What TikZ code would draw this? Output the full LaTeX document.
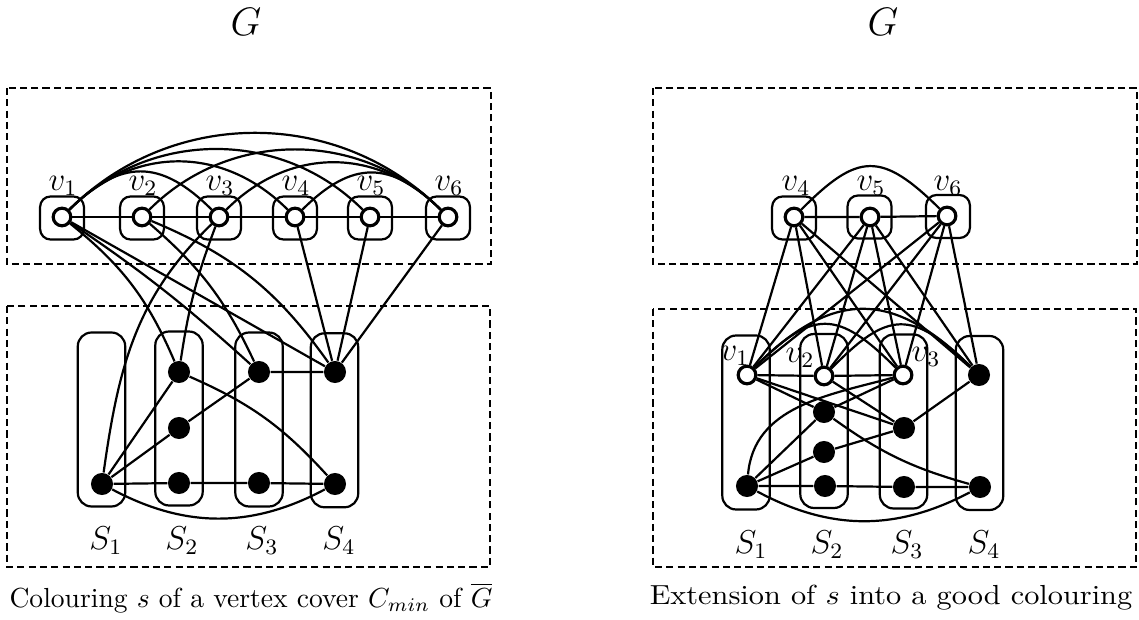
\documentclass[tikz,border=0pt]{standalone}
\usetikzlibrary{calc}
\begin{document}
\begin{tikzpicture}[x=0.3627pt, y=-0.3627pt,
  wv/.style={circle, draw, fill=white, line width=1.15pt, minimum size=6.4pt, inner sep=0pt},
  bv/.style={circle, fill=black, minimum size=8pt, inner sep=0pt},
  vbox/.style={draw, rounded corners=3.8pt, minimum width=15.9pt, minimum height=15.6pt, line width=0.8pt, inner sep=0pt},
  sbox/.style={draw, rounded corners=5pt, minimum width=17.2pt, minimum height=63.1pt, line width=0.8pt, inner sep=0pt},
  dbox/.style={draw, dash pattern=on 2.6pt off 1.5pt, line width=0.65pt},
  ln/.style={line width=0.8pt},
  lbl/.style={inner sep=0pt, font=\large}]
\useasboundingbox (0,0) rectangle (1139,620);

% titles
\node[inner sep=0pt] (GL) at (246,22) {\Large $G$};
\node[inner sep=0pt] (GR) at (883,22) {\Large $G$};

% dashed frames
\draw[dbox] (7,88) rectangle (491,264);
\draw[dbox] (7,306) rectangle (490,567);
\draw[dbox] (653,88) rectangle (1137,264);
\draw[dbox] (653,309) rectangle (1136,567);

% ---------- LEFT ----------
\foreach \n/\x in {1/62,2/142,3/219,4/295,5/370,6/448}{
  \node[vbox] (ab\n) at (\x,218) {};
  \node[wv] (a\n) at (\x,217) {};
  \node[lbl] (la\n) at (\x+1,186) {$v_{\n}$};
}
\node[sbox] (B1) at (101.5,419.5) {};
\node[sbox] (B2) at (179,418.5) {};
\node[sbox] (B3) at (259,419.5) {};
\node[sbox] (B4) at (334.5,420.3) {};

\node[bv] (L1b) at (102,484) {};
\node[bv] (L2t) at (179,372) {};
\node[bv] (L2m) at (179,428) {};
\node[bv] (L2b) at (179,483) {};
\node[bv] (L3t) at (259,372) {};
\node[bv] (L3b) at (259,483) {};
\node[bv] (L4t) at (335,372) {};
\node[bv] (L4b) at (335,484) {};

\node[lbl] (S1L) at (106,541) {$S_1$};
\node[lbl] (S2L) at (182,541) {$S_2$};
\node[lbl] (S3L) at (262,541) {$S_3$};
\node[lbl] (S4L) at (339,541) {$S_4$};

\draw[ln] (a1) -- (a2) -- (a3) -- (a4) -- (a5) -- (a6);
\draw[ln] (a1) to[bend left=45, looseness=1.3] (a3);
\draw[ln] (a1) to[bend left=45, looseness=1.07] (a4);
\draw[ln] (a1) to[bend left=45] (a5);
\draw[ln] (a1) to[bend left=45] (a6);
\draw[ln] (a2) to[bend left=45] (a6);
\draw[ln] (a3) to[bend left=45, looseness=1.07] (a6);
\draw[ln] (a4) to[bend left=45, looseness=1.3] (a6);

\draw[ln] (a1) to[bend left=14] (L2t);
\draw[ln] (a1) to[bend left=4] (L3t);
\draw[ln] (a1) -- (L4t);
\draw[ln] (a2) to[bend left=12] (L3t);
\draw[ln] (a2) to[bend left=16] (L4t);
\draw[ln] (a3) to[bend right=6] (L2t);
\draw[ln] (L1b) to[out=82,in=224] (a3);
\draw[ln] (a4) -- (L4t);
\draw[ln] (a5) -- (L4t);
\draw[ln] (a6) -- (L4t);

\draw[ln] (L1b) -- (L2t);
\draw[ln] (L1b) -- (L2m);
\draw[ln] (L1b) -- (L2b) -- (L3b) -- (L4b);
\draw[ln] (L1b) to[bend right=28] (L4b);
\draw[ln] (L2m) -- (L3t) -- (L4t);
\draw[ln] (L2t) to[bend left=12] (L4b);

\node (capL) at (251,598) {Colouring $s$ of a vertex cover $C_{min}$ of $\overline{G}$};

% ---------- RIGHT ----------
\node[vbox] (rb4) at (794,218) {};
\node[vbox] (rb5) at (869.5,217) {};
\node[vbox] (rb6) at (948,216.5) {};
\node[wv] (r4) at (794,217) {};
\node[wv] (r5) at (870,217) {};
\node[wv] (r6) at (947,216) {};
\node[lbl] (lr4) at (796,186) {$v_4$};
\node[lbl] (lr5) at (871,186) {$v_5$};
\node[lbl] (lr6) at (948,186) {$v_6$};

\node[sbox] (C1) at (746,422.5) {};
\node[sbox] (C2) at (824,421) {};
\node[sbox] (C3) at (903.5,421.5) {};
\node[sbox] (C4) at (979.5,423) {};

\node[wv] (r1) at (747,375) {};
\node[wv] (r2) at (824,376) {};
\node[wv] (r3) at (903,375) {};
\node[lbl] (lr1) at (735,356) {$v_1$};
\node[lbl] (lr2) at (800,358) {$v_2$};
\node[lbl] (lr3) at (926,357) {$v_3$};

\node[bv] (R4t) at (979,375) {};
\node[bv] (R2a) at (824,412) {};
\node[bv] (R3m) at (904,428) {};
\node[bv] (R2b) at (824,452) {};
\node[bv] (R1b) at (747,486) {};
\node[bv] (R2c) at (825,486) {};
\node[bv] (R3b) at (904,487) {};
\node[bv] (R4b) at (980,487) {};

\node[lbl] (S1R) at (751,545) {$S_1$};
\node[lbl] (S2R) at (827,545) {$S_2$};
\node[lbl] (S3R) at (907,545) {$S_3$};
\node[lbl] (S4R) at (984,545) {$S_4$};

\draw[ln] (r4) -- (r5) -- (r6);
\draw[ln] (r4) to[bend left=45, looseness=1.5] (r6);
\foreach \t in {r4,r5,r6}{
  \foreach \b in {r1,r2,r3,R4t}{
    \draw[ln] (\t) -- (\b);
  }
}
\draw[ln] (r1) -- (r2) -- (r3);
\draw[ln] (r1) to[bend left=45, looseness=1.5] (r3);
\draw[ln] (r1) to[bend left=45, looseness=1.3] (R4t);
\draw[ln] (r2) to[bend left=45, looseness=1.5] (R4t);
\draw[ln] (r1) -- (R2a);
\draw[ln] (r1) -- (R3m);
\draw[ln] (r2) -- (R3m);
\draw[ln] (r3) -- (R2a);
\draw[ln] (R1b) to[out=85,in=195] (r3);
\draw[ln] (R1b) -- (R2a);
\draw[ln] (R1b) -- (R2b);
\draw[ln] (R1b) -- (R2c) -- (R3b) -- (R4b);
\draw[ln] (R1b) to[bend right=28] (R4b);
\draw[ln] (R2b) -- (R3m) -- (R4t);
\draw[ln] (R2a) to[bend right=10] (R4b);

\node (capR) at (891,598) {\scalebox{1.1}[1.0]{Extension of $s$ into a good colouring}};
\end{tikzpicture}
\end{document}
